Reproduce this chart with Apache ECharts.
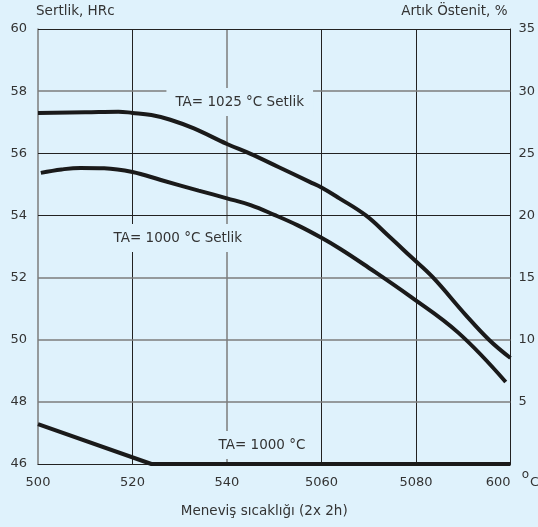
<!DOCTYPE html>
<html>
<head>
<meta charset="utf-8">
<script src="https://cdn.jsdelivr.net/npm/echarts@6/dist/echarts.min.js"></script>
<style>
html,body{margin:0;padding:0;background:#dff2fc;}
#c{width:538px;height:527px;}
</style>
</head>
<body>
<div id="c"></div>
<script>
// ---- data ----
const xTickLabels = ['500', '520', '540', '5060', '5080', '600'];
// TA= 1025 °C Setlik (hardness, HRc)
const temps1 = [500, 510, 517, 520, 524, 528, 533, 540, 545, 551, 557.5, 560, 563.8, 569.4, 574, 579, 583.5, 590.5, 595.5, 600];
const hrc1   = [57.30, 57.32, 57.34, 57.30, 57.23, 57.08, 56.80, 56.30, 55.98, 55.55, 55.08, 54.90, 54.55, 54.00, 53.37, 52.66, 52.02, 50.80, 49.99, 49.41];
// TA= 1000 °C Setlik (hardness, HRc)
const temps2 = [500.6, 505, 509, 514, 520, 526, 534, 540, 545, 550, 555, 560, 564, 569, 579, 589, 599];
const hrc2   = [55.37, 55.48, 55.53, 55.52, 55.40, 55.14, 54.80, 54.55, 54.33, 54.02, 53.68, 53.28, 52.92, 52.42, 51.37, 50.22, 48.64];
// TA= 1000 °C (residual austenite, %)
const temps3 = [500, 524, 600];
const aust3  = [3.2, 0, 0];

const DARK = '#222222', GRAY = '#7d7d7d', TXT = '#333333', BG = '#dff2fc';
const FONT = 'DejaVu Sans';

const chart = echarts.init(document.getElementById('c'));
const zip = (a, b) => a.map((v, i) => [v, b[i]]);
const lbl = (text, x, y) => ({
  coord: [x, y], symbol: 'rect', symbolSize: 1, itemStyle: {color: 'rgba(0,0,0,0)'},
  label: {show: true, position: 'inside', formatter: text, color: TXT, fontFamily: FONT, fontSize: 13.5,
          backgroundColor: BG, padding: [7, 9, 7, 9]}
});

chart.setOption({
  backgroundColor: BG,
  animation: false,
  textStyle: {fontFamily: FONT},
  grid: {left: 38, right: 27, top: 29, bottom: 63},
  xAxis: {
    type: 'value', min: 500, max: 600, interval: 20,
    axisLine: {show: true, lineStyle: {color: DARK, width: 1}},
    axisTick: {show: false}, splitLine: {show: false},
    axisLabel: {color: TXT, fontSize: 13, fontFamily: FONT, margin: 12, alignMaxLabel: 'right',
      formatter: v => xTickLabels[Math.round((v - 500) / 20)]},
    name: 'Meneviş sıcaklığı (2x 2h)', nameLocation: 'middle', nameGap: 40,
    nameTextStyle: {color: TXT, fontSize: 13.5, fontFamily: FONT, padding: [0, 20, 0, 0]}
  },
  yAxis: [{
    type: 'value', min: 46, max: 60, interval: 2,
    axisLine: {show: true, lineStyle: {color: GRAY, width: 1.5}},
    axisTick: {show: false}, splitLine: {show: false},
    axisLabel: {color: TXT, fontSize: 13, fontFamily: FONT, margin: 11},
    name: 'Sertlik, HRc', nameLocation: 'end', nameGap: 11,
    nameTextStyle: {color: TXT, fontSize: 13.5, fontFamily: FONT, align: 'left', padding: [0, 0, 0, -2]}
  }, {
    type: 'value', min: 0, max: 35, interval: 5, position: 'right',
    axisLine: {show: true, lineStyle: {color: DARK, width: 1}},
    axisTick: {show: false}, splitLine: {show: false},
    axisLabel: {color: TXT, fontSize: 13, fontFamily: FONT, margin: 8,
      formatter: v => (v === 0 ? '' : String(v))},
    name: 'Artık Östenit, %', nameLocation: 'end', nameGap: 11,
    nameTextStyle: {color: TXT, fontSize: 13.5, fontFamily: FONT, align: 'right', padding: [0, 3, 0, 0]}
  }],
  graphic: [
    {type: 'text', right: 9, bottom: 46, style: {text: 'o', fill: TXT, font: '12px "DejaVu Sans"'}},
    {type: 'text', left: 530, bottom: 38, style: {text: 'C', fill: TXT, font: '13px "DejaVu Sans"'}}
  ],
  series: [
    {
      type: 'line', data: [], z: 1, silent: true,
      markLine: {
        silent: true, symbol: 'none', label: {show: false}, animation: false,
        data: [
          {xAxis: 520, lineStyle: {color: DARK, width: 1, type: 'solid'}},
          {xAxis: 540, lineStyle: {color: GRAY, width: 1.5, type: 'solid'}},
          {xAxis: 560, lineStyle: {color: DARK, width: 1, type: 'solid'}},
          {xAxis: 580, lineStyle: {color: DARK, width: 1, type: 'solid'}},
          {yAxis: 48, lineStyle: {color: GRAY, width: 1.5, type: 'solid'}},
          {yAxis: 50, lineStyle: {color: GRAY, width: 1.5, type: 'solid'}},
          {yAxis: 52, lineStyle: {color: GRAY, width: 1.5, type: 'solid'}},
          {yAxis: 54, lineStyle: {color: DARK, width: 1, type: 'solid'}},
          {yAxis: 56, lineStyle: {color: DARK, width: 1, type: 'solid'}},
          {yAxis: 58, lineStyle: {color: GRAY, width: 1.5, type: 'solid'}},
          {yAxis: 60, lineStyle: {color: DARK, width: 1, type: 'solid'}}
        ]
      }
    },
    {
      type: 'line', data: [], z: 2, silent: true,
      markPoint: {
        silent: true, animation: false,
        data: [
          lbl('TA= 1025 °C Setlik', 542.7, 57.65),
          lbl('TA= 1000 °C Setlik', 529.6, 53.27),
          lbl('TA= 1000 °C', 547.4, 46.61)
        ]
      }
    },
    {type: 'line', yAxisIndex: 0, data: zip(temps1, hrc1), smooth: 0.4, showSymbol: false, z: 5,
     lineStyle: {color: '#1a1a1a', width: 4}},
    {type: 'line', yAxisIndex: 0, data: zip(temps2, hrc2), smooth: 0.4, showSymbol: false, z: 5,
     lineStyle: {color: '#1a1a1a', width: 4}},
    {type: 'line', yAxisIndex: 1, data: zip(temps3, aust3), smooth: false, showSymbol: false, z: 5,
     lineStyle: {color: '#1a1a1a', width: 4}}
  ]
});
</script>
</body>
</html>
